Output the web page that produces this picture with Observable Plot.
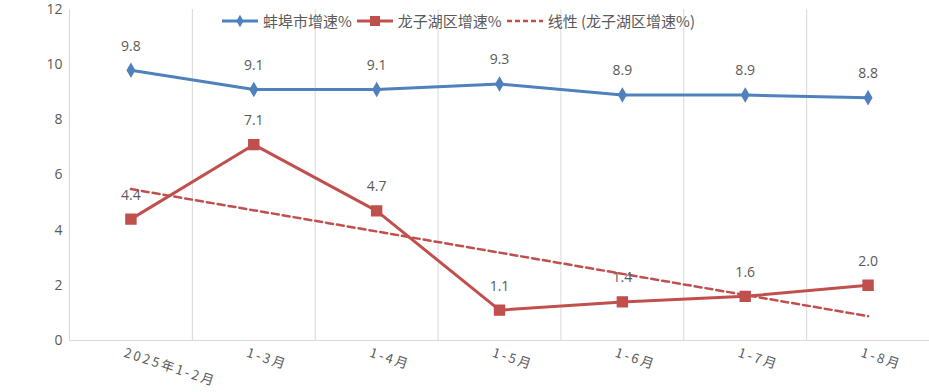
<!DOCTYPE html>
<html>
<head>
<meta charset="utf-8">
<script src="https://cdn.jsdelivr.net/npm/d3@7"></script>
<script src="https://cdn.jsdelivr.net/npm/@observablehq/plot@0.6"></script>
<style>
  html, body { margin: 0; padding: 0; background: #fff; }
  #wrap { position: relative; width: 929px; height: 392px; font-family: "Open Sans", "Noto Sans CJK SC", sans-serif; }
  #legend { position: absolute; top: 10px; left: 0; width: 916px; display: flex; justify-content: center; align-items: center; font-size: 15px; color: #595959; font-family: "Noto Sans CJK SC", sans-serif; }
  #legend .item { display: flex; align-items: center; margin: 0 2px; }
  #legend svg { margin-right: 4px; }
  .xlab text { letter-spacing: 2.5px; }
</style>
</head>
<body>
<div id="wrap">
  <div id="chart"></div>
  <div id="legend"></div>
</div>
<script>
const categories = ["2025年1-2月", "1-3月", "1-4月", "1-5月", "1-6月", "1-7月", "1-8月"];
const bengbu = [9.8, 9.1, 9.1, 9.3, 8.9, 8.9, 8.8];
const longzihu = [4.4, 7.1, 4.7, 1.1, 1.4, 1.6, 2.0];
const yTicks = [0, 2, 4, 6, 8, 10, 12];
const seriesNames = ["蚌埠市增速%", "龙子湖区增速%", "线性 (龙子湖区增速%)"];

const blue = "#4F81BD";
const red = "#C0504D";
const gray = "#595959";

const rowsB = categories.map((c, i) => ({i, c, v: bengbu[i]}));
const rowsL = categories.map((c, i) => ({i, c, v: longzihu[i]}));
const idx = categories.map((_, i) => i);
const gridPos = idx.slice(1).map(i => i - 0.5);

const chart = Plot.plot({
  width: 929,
  height: 392,
  marginTop: 9,
  marginBottom: 52,
  marginLeft: 69,
  marginRight: 0,
  style: {fontFamily: "'Open Sans', 'Noto Sans CJK SC', sans-serif", color: gray, background: "#fff"},
  x: {type: "linear", domain: [-0.5, categories.length - 0.5], axis: null},
  y: {domain: [0, 12], axis: null},
  marks: [
    Plot.ruleX(gridPos, {stroke: "#d9d9d9", strokeWidth: 1}),
    Plot.ruleX([-0.5], {stroke: "#d9d9d9", strokeWidth: 1}),
    Plot.ruleY([0], {stroke: "#d9d9d9", strokeWidth: 1}),
    Plot.text(yTicks, {x: -0.5, y: d => d, text: d => String(d), textAnchor: "end", dx: -7, fontSize: 14, fill: gray}),
    Plot.text(categories, {x: (d, i) => i, text: d => d, frameAnchor: "bottom", dx: -8, dy: 16, rotate: 18, textAnchor: "start", fontSize: 13, fill: gray, fontFamily: "'Noto Sans CJK SC', sans-serif", className: "xlab"}),
    Plot.linearRegressionY(rowsL, {x: "i", y: "v", ci: 0, stroke: red, strokeWidth: 2.5, strokeDasharray: "7,4"}),
    Plot.line(rowsB, {x: "i", y: "v", stroke: blue, strokeWidth: 3}),
    Plot.dot(rowsB, {x: "i", y: "v", symbol: "diamond", r: 3.8, fill: blue, stroke: blue}),
    Plot.line(rowsL, {x: "i", y: "v", stroke: red, strokeWidth: 3}),
    Plot.dot(rowsL, {x: "i", y: "v", symbol: "square", r: 5.6, fill: red, stroke: red}),
    Plot.text(rowsB, {x: "i", y: "v", text: d => d.v.toFixed(1), dy: -24, fontSize: 14, fill: gray}),
    Plot.text(rowsL, {x: "i", y: "v", text: d => d.v.toFixed(1), dy: -24, fontSize: 14, fill: gray})
  ]
});
document.getElementById("chart").appendChild(chart);
d3.select(chart).selectAll("g.xlab text").style("letter-spacing", "2.5px");

// Legend
const legend = d3.select("#legend");
const glyphs = [
  {name: seriesNames[0], color: blue, dash: null, sym: "diamond"},
  {name: seriesNames[1], color: red, dash: null, sym: "square"},
  {name: seriesNames[2], color: red, dash: "5,3", sym: null}
];
glyphs.forEach(g => {
  const item = legend.append("div").attr("class", "item");
  const s = item.append("svg").attr("width", 38).attr("height", 14);
  s.append("line").attr("x1", 1).attr("x2", 37).attr("y1", 7).attr("y2", 7)
    .attr("stroke", g.color).attr("stroke-width", g.dash ? 2.5 : 3)
    .attr("stroke-dasharray", g.dash);
  if (g.sym === "diamond") {
    s.append("path").attr("d", d3.symbol(d3.symbolDiamond, 45)()).attr("transform", "translate(19,7)").attr("fill", g.color);
  } else if (g.sym === "square") {
    s.append("rect").attr("x", 14).attr("y", 2).attr("width", 10).attr("height", 10).attr("fill", g.color);
  }
  item.append("span").text(g.name);
});
</script>
</body>
</html>
